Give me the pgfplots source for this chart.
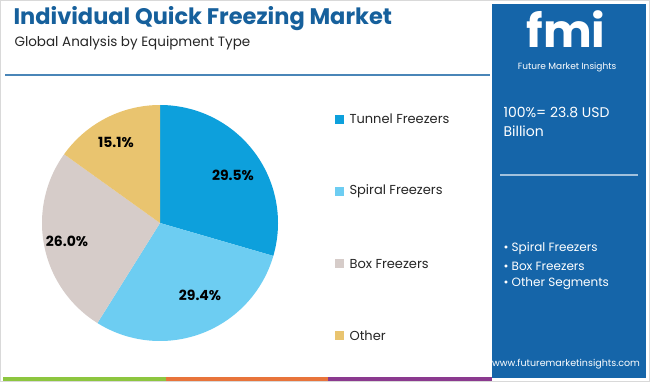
\documentclass[border=0pt]{standalone}
\usepackage{pgfplots}
\pgfplotsset{compat=1.18}
\usepackage{fontspec}
\setmainfont{Poppins}
\definecolor{tunnel}{HTML}{0DA0DC}
\definecolor{spiral}{HTML}{6DCDF2}
\definecolor{boxf}{HTML}{D6CCC9}
\definecolor{other}{HTML}{E9C46F}
\definecolor{titleblue}{HTML}{16609C}
\definecolor{panel}{HTML}{1565A9}
\definecolor{rule}{HTML}{4A86B8}
\definecolor{gbar}{HTML}{8DC63F}
\definecolor{obar}{HTML}{E8743B}
\definecolor{pbar}{HTML}{8B3A8F}
% shares (percent)
\def\vA{29.5}\def\vB{29.4}\def\vC{26.0}\def\vD{15.1}
\pgfmathsetmacro{\aA}{\vA*3.6}
\pgfmathsetmacro{\aB}{\aA+\vB*3.6}
\pgfmathsetmacro{\aC}{\aB+\vC*3.6}
\pgfmathsetmacro{\aD}{\aC+\vD*3.6}
\begin{document}
\begin{tikzpicture}
\begin{axis}[width=650pt,height=382pt,scale only axis,
  xmin=0,xmax=650,ymin=0,ymax=382,y dir=reverse,hide axis,clip=false]
\fill[white] (axis cs:0,0) rectangle (axis cs:650,382);
\draw[black!15,line width=1pt] (axis cs:0.5,0.5) rectangle (axis cs:649.5,381.5);
% pie
\addplot[fill=tunnel,draw=none,domain=0:\aA,samples=80,variable=\t] ({160+118*sin(t)},{223-118*cos(t)}) -- (axis cs:160,223) -- cycle;
\addplot[fill=spiral,draw=none,domain=\aA:\aB,samples=80,variable=\t] ({160+118*sin(t)},{223-118*cos(t)}) -- (axis cs:160,223) -- cycle;
\addplot[fill=boxf,draw=none,domain=\aB:\aC,samples=80,variable=\t] ({160+118*sin(t)},{223-118*cos(t)}) -- (axis cs:160,223) -- cycle;
\addplot[fill=other,draw=none,domain=\aC:\aD,samples=80,variable=\t] ({160+118*sin(t)},{223-118*cos(t)}) -- (axis cs:160,223) -- cycle;
\begin{scope}[every node/.style={font=\fontsize{14}{16}\selectfont\bfseries}]
\node at (axis cs:233,175) {29.5\%};
\node at (axis cs:200,295) {29.4\%};
\node at (axis cs:67,241) {26.0\%};
\node at (axis cs:116,142) {15.1\%};
\end{scope}
% title
\node[anchor=west,text=titleblue,font=\fontsize{22.5}{26}\selectfont\bfseries] at (axis cs:10,19) {Individual Quick Freezing Market};
\node[anchor=west,text=black!85,font=\fontsize{13.5}{16}\selectfont] at (axis cs:11,43) {Global Analysis by Equipment Type};
\draw[rule,line width=1.5pt] (axis cs:5,75) -- (axis cs:490,75);
% legend
\fill[tunnel] (axis cs:335,115) rectangle (axis cs:344,124);
\fill[spiral] (axis cs:335,187) rectangle (axis cs:344,196);
\fill[boxf] (axis cs:335,259) rectangle (axis cs:344,268);
\fill[other] (axis cs:335,331) rectangle (axis cs:344,340);
\begin{scope}[every node/.style={anchor=west,text=black!85,font=\fontsize{13}{15}\selectfont}]
\node at (axis cs:346,119) {Tunnel Freezers};
\node at (axis cs:346,191) {Spiral Freezers};
\node at (axis cs:346,264) {Box Freezers};
\node at (axis cs:346,336) {Other};
\end{scope}
% right panel
\fill[panel] (axis cs:492,4) rectangle (axis cs:646,378);
\node[text=white,font=\fontsize{46}{48}\selectfont\bfseries,inner sep=0pt] at (axis cs:566,29) {fmi};
\node[text=white,font=\fontsize{9}{10}\selectfont,inner sep=1pt] at (axis cs:567,67) {Future Market Insights};
\node[anchor=west,text=white,font=\fontsize{14}{16}\selectfont] at (axis cs:500,112) {100\%= 23.8 USD};
\node[anchor=west,text=white,font=\fontsize{14}{16}\selectfont] at (axis cs:500,131) {Billion};
\draw[white!60!panel,line width=1.5pt] (axis cs:500,175) -- (axis cs:638,175);
\begin{scope}[every node/.style={anchor=west,text=white,font=\fontsize{12}{14}\selectfont}]
\node at (axis cs:500,248) {• Spiral Freezers};
\node at (axis cs:500,266) {• Box Freezers};
\node at (axis cs:500,284) {• Other Segments};
\end{scope}
\node[text=white,font=\fontsize{9.5}{11}\selectfont] at (axis cs:566,364) {www.futuremarketinsights.com};
% bottom bars
\fill[gbar] (axis cs:3,377) rectangle (axis cs:166,381);
\fill[obar] (axis cs:166,377) rectangle (axis cs:328,381);
\fill[pbar] (axis cs:328,377) rectangle (axis cs:492,381);
\end{axis}
\end{tikzpicture}
\end{document}
